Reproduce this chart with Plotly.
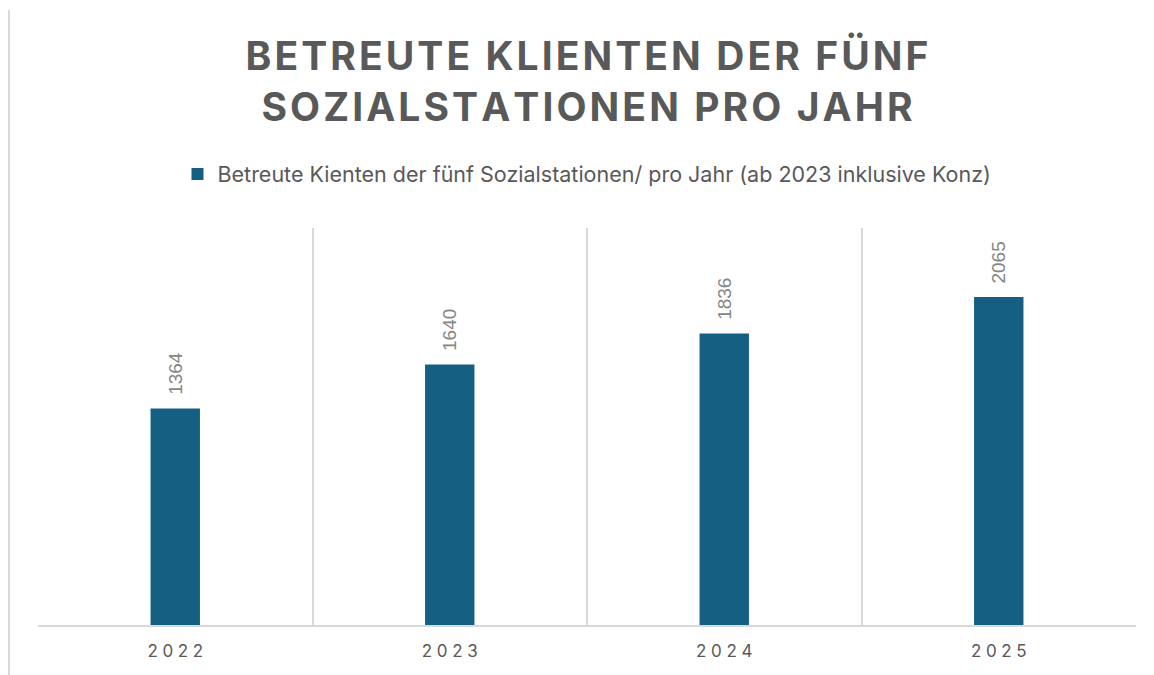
import plotly.graph_objects as go

years = ["2022", "2023", "2024", "2025"]
clients = [1364, 1640, 1836, 2065]
series_name = "Betreute Kienten der fünf Sozialstationen/ pro Jahr (ab 2023 inklusive Konz)"
title_lines = ["BETREUTE KLIENTEN DER FÜNF", "SOZIALSTATIONEN PRO JAHR"]

def spaced(s, sep="\u2009"):
    return sep.join(list(s))

tick_labels = [spaced(y, "\u2009\u200a") for y in years]
title_text = "<br>".join(spaced(l, "\u200a") for l in title_lines)

# page body has an 8px margin; figure drawn 8px in from the top-left corner
W, H = 1146, 667
L, R, T, B = 30, 18, 220, 50
plot_w, plot_h = W - L - R, H - T - B

fig = go.Figure()
fig.add_trace(go.Bar(
    x=years, y=clients, name=series_name,
    marker=dict(color="#156082", line=dict(width=0)),
    width=0.18,
    text=["\u00a0\u00a0" + str(v) for v in clients], textposition="outside", textangle=-90,
    constraintext="none",
    textfont=dict(family="Liberation Sans, Arial", size=19, color="#858585"),
    cliponaxis=False, showlegend=True,
))

fig.update_layout(
    width=W, height=H,
    margin=dict(l=L, r=R, t=T, b=B),
    paper_bgcolor="white", plot_bgcolor="white",
    font=dict(family="Inter, Roboto, sans-serif", color="#595959"),
    showlegend=True,
    title=dict(text=title_text, x=0.5, xref="paper", xanchor="center",
               y=1 - 62/H, yref="container", yanchor="middle",
               font=dict(size=39, color="#595959", weight="bold")),
    legend=dict(orientation="h", x=0.5, xanchor="center", y=(617 - 166)/plot_h, yanchor="middle",
                font=dict(size=21.5, color="#595959"), itemwidth=30, traceorder="normal"),
    xaxis=dict(type="category", range=[-0.5, 3.5], tickmode="array", tickvals=years, ticktext=tick_labels,
               tickson="boundaries", showgrid=True, gridcolor="#d9d9d9", gridwidth=1.5,
               showline=True, linecolor="#d9d9d9", linewidth=2, ticks="",
               tickfont=dict(size=17, color="#595959"), ticklabelstandoff=10),
    yaxis=dict(range=[0, 2500], showgrid=False, showticklabels=False, zeroline=False, showline=False),
    bargap=0.82,
)
fig.add_shape(type="line", xref="paper", yref="paper", x0=(1 - L)/plot_w, x1=(1 - L)/plot_w,
              y0=(617 - H)/plot_h, y1=(617 - 2)/plot_h, line=dict(color="#d9d9d9", width=2))

fig.write_html("out.html")
